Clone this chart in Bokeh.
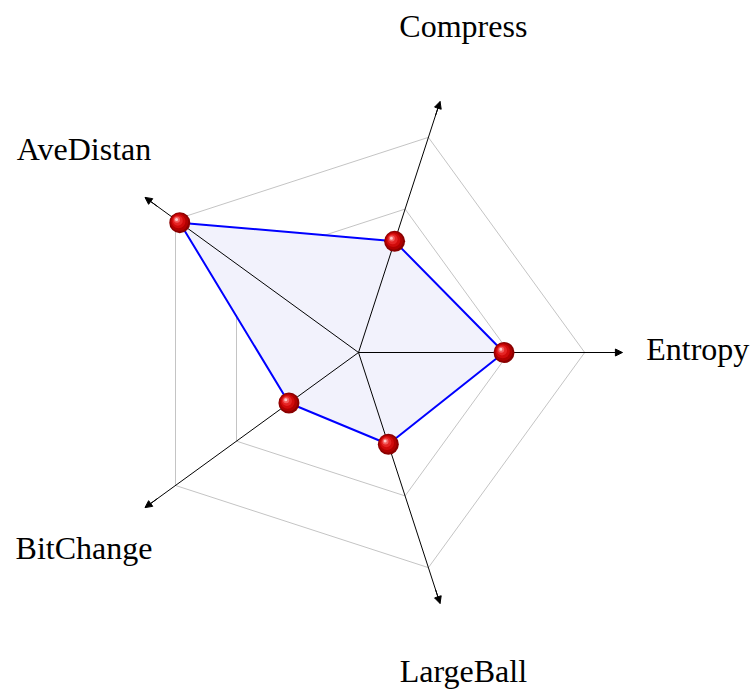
import numpy as np
from bokeh.plotting import figure
from bokeh.models import Arrow, NormalHead
from bokeh.core.properties import value
from bokeh.embed import file_html
from bokeh.resources import INLINE

categories = ["Entropy", "Compress", "AveDistan", "BitChange", "LargeBall"]
values = [1.93, 1.55, 2.93, 1.14, 1.28]
grid_levels = [1, 2, 3]
axis_length = 3.5
label_radius = 4.5

angles = np.deg2rad(np.arange(len(categories)) * 72.0)

W, H = 755, 690
scale = 75.4  # px per unit
cx, cy = 358, 352
p = figure(width=W, height=H, output_backend="svg", toolbar_location=None,
           x_range=(-cx / scale, (W - cx) / scale),
           y_range=(-(H - cy) / scale, cy / scale),
           min_border=0)
p.axis.visible = False
p.grid.visible = False
p.outline_line_color = None
p.background_fill_color = "white"

# grid pentagons
for lv in grid_levels:
    gx = list(lv * np.cos(angles)) + [lv * np.cos(angles[0])]
    gy = list(lv * np.sin(angles)) + [lv * np.sin(angles[0])]
    p.line(gx, gy, line_color="#c4c4c4", line_width=1)

# data polygon
vx = np.array(values) * np.cos(angles)
vy = np.array(values) * np.sin(angles)
p.patch(list(vx), list(vy), fill_color="#f2f2fc", line_color=None)

# axes lines
ex = axis_length * np.cos(angles)
ey = axis_length * np.sin(angles)
p.segment(x0=np.zeros(len(angles)), y0=np.zeros(len(angles)), x1=ex, y1=ey,
          line_color="black", line_width=1)
# arrow heads
for a in angles:
    p.add_layout(Arrow(x_start=(axis_length - 0.2) * np.cos(a), y_start=(axis_length - 0.2) * np.sin(a),
                       x_end=axis_length * np.cos(a), y_end=axis_length * np.sin(a),
                       line_color="black", line_width=1,
                       end=NormalHead(size=7, fill_color="black", line_color="black", line_width=1)))

p.line(list(vx) + [vx[0]], list(vy) + [vy[0]], line_color="#0000ff", line_width=2)

# sphere-like markers
layers = [(21, 0.0, "#8a0000"), (18, -0.6, "#b00000"), (14, -1.3, "#d00a0a"),
          (10, -2.0, "#e52424"), (6, -2.8, "#f26060"), (3, -3.2, "#ffc8c8")]
for size, off, col in layers:
    p.scatter(vx + off / scale, vy - off / scale, size=size, fill_color=col,
              line_color=None, marker="circle")

# labels
lx = label_radius * np.cos(angles)
ly = label_radius * np.sin(angles)
p.text(lx, ly, text=categories, text_align="center", text_baseline="middle",
       y_offset=-4,
       text_font=value("Liberation Serif"), text_font_size="32px", text_color="black")

open("out.html", "w").write(file_html(p, INLINE))
